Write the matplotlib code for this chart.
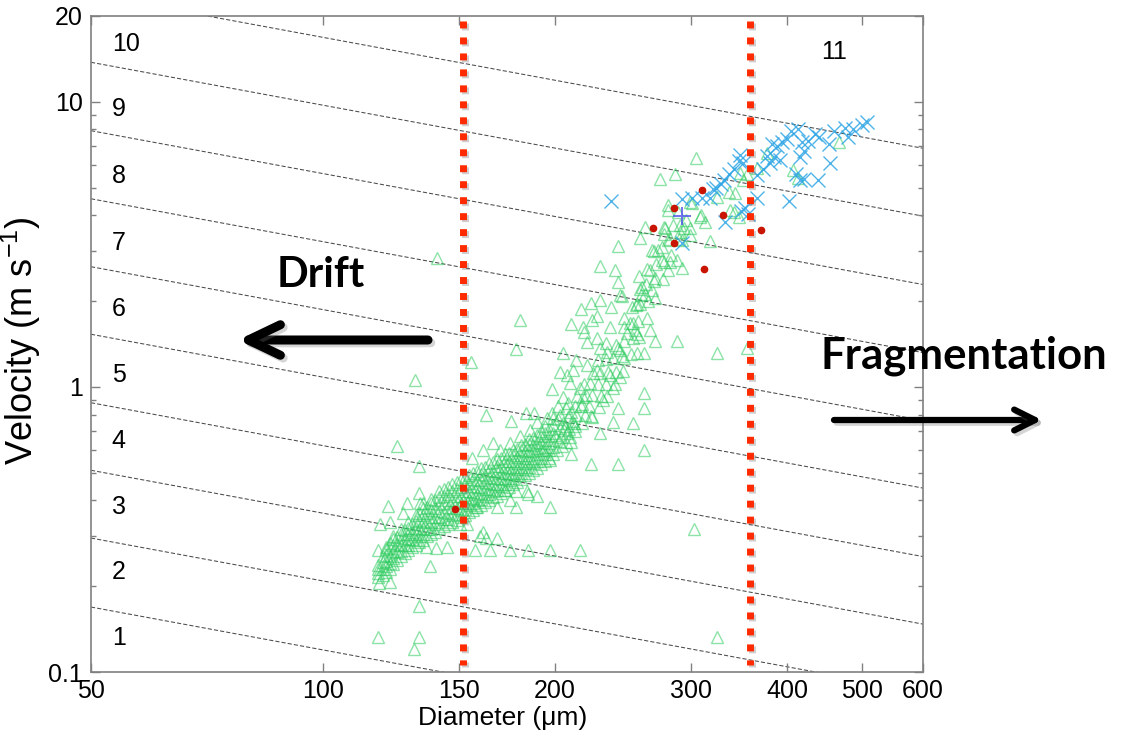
import numpy as np
import matplotlib
matplotlib.use("Agg")
import matplotlib.pyplot as plt
from matplotlib.patches import FancyArrowPatch, ArrowStyle
from matplotlib.ticker import NullLocator, FixedLocator
import matplotlib.patheffects as pe

plt.rcParams['font.family'] = ['Liberation Sans', 'DejaVu Sans']
plt.rcParams['mathtext.fontset'] = 'custom'
plt.rcParams['mathtext.rm'] = 'Liberation Sans'
plt.rcParams['mathtext.default'] = 'regular'

# ---------------- data ----------------
x_ticks = [50, 100, 150, 200, 300, 400, 500, 600]
y_ticks = [0.1, 1, 10, 20]
y_tick_labels = ['0.1', '1', '10', '20']

# iso-lines  v = c * (D/50)^slope   (c = velocity at D = 50 um)
line_v50 = [0.169, 0.295, 0.51, 0.88, 1.53, 2.64, 4.57, 7.92, 13.76, 23.8]
line_slope = -0.5
region_labels = ['1', '2', '3', '4', '5', '6', '7', '8', '9', '10']
region_label_v = [0.1316, 0.224, 0.379, 0.646, 1.10, 1.876, 3.20, 5.49, 9.44, 15.95]
region_label_d = 53.2
top_label = '11'
top_label_pos = (443, 14.96)

drift_limit = 152
frag_limit = 358

# dense band of green triangles: (diameter, [velocities])
band_cols = [
    (117.9, [0.215, 0.222, 0.230, 0.238]),
    (119.5, [0.219, 0.230, 0.243, 0.256]),
    (120.6, [0.225, 0.235, 0.246, 0.258, 0.270]),
    (122.0, [0.230, 0.242, 0.256, 0.272, 0.284]),
    (123.3, [0.240, 0.252, 0.265, 0.278, 0.292, 0.300]),
    (124.8, [0.248, 0.264, 0.281, 0.298]),
    (126.2, [0.255, 0.265, 0.278, 0.290, 0.305, 0.318]),
    (127.8, [0.262, 0.280, 0.296, 0.315]),
    (129.0, [0.268, 0.280, 0.292, 0.305, 0.320, 0.335]),
    (130.5, [0.275, 0.292, 0.310, 0.330]),
    (132.0, [0.280, 0.290, 0.305, 0.320, 0.338, 0.355]),
    (133.3, [0.285, 0.300, 0.318, 0.340, 0.360]),
    (134.8, [0.290, 0.305, 0.320, 0.336, 0.355, 0.375, 0.390]),
    (136.3, [0.300, 0.318, 0.338, 0.360, 0.380]),
    (138.0, [0.305, 0.318, 0.335, 0.350, 0.370, 0.390, 0.405]),
    (139.8, [0.310, 0.330, 0.350, 0.375, 0.400]),
    (141.5, [0.320, 0.335, 0.350, 0.368, 0.388, 0.410, 0.430]),
    (143.5, [0.325, 0.345, 0.365, 0.390, 0.415, 0.440]),
    (145.3, [0.330, 0.345, 0.362, 0.380, 0.400, 0.420, 0.445]),
    (147.0, [0.335, 0.355, 0.375, 0.400, 0.430, 0.455]),
    (149.0, [0.340, 0.358, 0.375, 0.395, 0.415, 0.440, 0.465]),
    (151.0, [0.350, 0.370, 0.390, 0.415, 0.445, 0.475]),
    (152.7, [0.355, 0.372, 0.390, 0.410, 0.430, 0.455, 0.485]),
    (154.6, [0.365, 0.385, 0.405, 0.430, 0.460, 0.490]),
    (156.5, [0.370, 0.390, 0.408, 0.428, 0.450, 0.475, 0.500]),
    (158.4, [0.380, 0.400, 0.420, 0.445, 0.470, 0.505]),
    (160.3, [0.385, 0.405, 0.425, 0.445, 0.470, 0.495, 0.520]),
    (162.3, [0.395, 0.415, 0.440, 0.465, 0.490, 0.525]),
    (164.0, [0.400, 0.420, 0.440, 0.462, 0.485, 0.510, 0.540]),
    (166.0, [0.410, 0.430, 0.455, 0.480, 0.505, 0.545]),
    (168.0, [0.415, 0.435, 0.457, 0.480, 0.505, 0.530, 0.560]),
    (170.0, [0.425, 0.450, 0.475, 0.500, 0.530, 0.565]),
    (172.0, [0.435, 0.455, 0.478, 0.500, 0.525, 0.550, 0.580]),
    (174.3, [0.445, 0.470, 0.495, 0.520, 0.550, 0.585]),
    (176.5, [0.455, 0.478, 0.500, 0.525, 0.550, 0.575, 0.600]),
    (178.5, [0.465, 0.490, 0.515, 0.540, 0.570, 0.605]),
    (180.6, [0.475, 0.500, 0.525, 0.550, 0.575, 0.600, 0.625]),
    (183.0, [0.490, 0.515, 0.540, 0.565, 0.595, 0.630]),
    (185.0, [0.500, 0.525, 0.550, 0.575, 0.600, 0.630, 0.655]),
    (187.2, [0.510, 0.540, 0.565, 0.595, 0.625, 0.660]),
    (189.5, [0.520, 0.550, 0.580, 0.610, 0.640, 0.680]),
    (191.8, [0.535, 0.565, 0.600, 0.635, 0.670, 0.700]),
    (194.0, [0.550, 0.580, 0.615, 0.650, 0.690, 0.730]),
    (196.3, [0.565, 0.600, 0.635, 0.670, 0.710]),
    (198.6, [0.580, 0.615, 0.650, 0.690, 0.735, 0.780]),
]

tri_upper = [
    (201, 0.60), (202.5, 0.645), (200, 0.68), (203, 0.72), (201.5, 0.77),
    (204, 0.62), (203.5, 0.665), (205.5, 0.705), (204.5, 0.745), (203, 0.80),
    (206.5, 0.64), (207, 0.69), (205.8, 0.73), (208, 0.785), (206.8, 0.84),
    (209, 0.665), (208.5, 0.71), (210.2, 0.76), (209.5, 0.815), (208, 0.875),
    (212.5, 0.70), (211.5, 0.75), (213, 0.80), (212, 0.86), (213.5, 0.93),
    (217, 0.745), (218.5, 0.80), (216.5, 0.87), (219, 0.94), (217.8, 1.02),
    (222.5, 0.79), (221.5, 0.86), (223.5, 0.94), (222, 1.03), (224, 1.12),
    (228, 0.85), (229.5, 0.93), (227, 1.02), (228.8, 1.12), (227.5, 1.24),
    (233.5, 0.93), (232.5, 1.02), (234.5, 1.13), (233, 1.25),
    (239, 1.02), (240, 1.13), (238, 1.26), (239.5, 1.40),
    (245, 1.14), (244, 1.28), (246, 1.45), (245.5, 1.62),
    (251, 1.30), (252, 1.48), (250, 1.68), (251.5, 1.90),
    (257, 1.50), (256, 1.70), (258, 1.95), (257.5, 2.20),
    (263, 1.75), (264, 2.00), (262, 2.30), (263.5, 2.60),
    (269.5, 2.05), (268.5, 2.35), (270.5, 2.70), (269, 3.00),
    (276, 2.40), (277, 2.75), (275, 3.10), (276.5, 3.45),
    (283, 2.90), (282, 3.30), (284, 3.70),
    (289.5, 3.30), (290.5, 3.70), (288.5, 4.10),
]

tri_scatter = [
    (124.7, 0.62), (133, 0.53), (121.5, 0.382), (118.6, 0.33), (122, 0.335), (117.9, 0.268), (120.6, 0.275),
    (133, 0.425), (133.4, 0.39), (128.5, 0.39), (127, 0.36), (137.6, 0.235), (118.2, 0.205), (122, 0.207),
    (133, 0.17), (117.9, 0.133), (133, 0.133), (131.2, 0.12),
    (160, 0.30), (162.7, 0.296), (168, 0.296), (157.5, 0.268), (164.6, 0.268), (174.8, 0.268), (184.5, 0.268),
    (197, 0.268), (215.4, 0.268),
    (197, 0.38), (177.7, 0.43), (184, 0.43), (189.5, 0.415), (168, 0.38), (145, 0.275), (140, 0.272), (136, 0.275),
    (150.5, 0.33), (153.5, 0.33), (161, 0.31), (158, 0.378), (172, 0.435), (175, 0.40), (177.7, 0.38), (184.5, 0.42),
    (303, 0.318), (324, 0.1325),
    (131.5, 1.06), (140.6, 2.83), (155.5, 1.22), (178, 1.36), (180, 1.72),
    (162.5, 0.80), (175.5, 0.76), (183.5, 0.81), (188, 0.81), (198, 0.98), (203, 1.13), (204.7, 1.32), (210, 1.66),
    (216, 1.87), (222.5, 1.97), (229, 2.02), (236, 1.90), (242.7, 2.10), (254.8, 1.94), (258.5, 2.10),
    (218, 1.56), (223, 1.72), (235.5, 1.62), (246, 1.75), (252, 1.68), (248, 1.55), (255, 1.53),
    (220, 1.44), (226.5, 1.48), (229, 1.37), (233.5, 1.33), (241, 1.37), (246, 1.26), (255, 1.32), (261, 1.32),
    (213, 1.24), (220, 1.19), (226.5, 1.15), (235.5, 1.10), (242.7, 1.08), (237.5, 0.99), (261, 0.95),
    (231, 0.90), (241, 0.845), (261, 0.845), (223, 0.785), (237.5, 0.755), (252, 0.75), (229, 0.69),
    (216, 0.86), (212.5, 0.73), (209.5, 0.64), (209.5, 0.58), (197, 0.554), (193, 0.60), (222.5, 0.535),
    (241, 0.535), (261, 0.60),
    (207, 1.10), (211, 1.15), (209, 1.03), (215.5, 0.99), (217.5, 0.92), (205, 0.92), (202, 0.86), (198, 0.81),
    (195, 0.78), (189.5, 0.755), (185.5, 0.706), (180, 0.67), (175, 0.635), (169.6, 0.60), (166, 0.635),
    (161, 0.60), (156, 0.565),
    (273.5, 5.35), (286, 5.6), (241, 3.12), (229, 2.66), (239, 2.57), (241, 2.33), (257, 2.44), (257.6, 3.33),
    (261.5, 3.64), (267, 3.02), (272, 3.02), (278, 3.62), (280, 4.34), (275, 2.79), (282, 2.74), (288, 2.79),
    (292, 2.61), (280, 2.57), (265.4, 2.57), (269.5, 2.41), (259, 2.25), (261.5, 2.12), (267, 2.19), (255, 1.96),
    (244, 2.09), (226.5, 1.77), (253.5, 1.58), (265.4, 1.58), (269.5, 1.45), (288, 1.45), (324, 1.32),
    (355, 1.37), (217.5, 1.62), (233, 1.42), (242.7, 1.35),
    (296, 3.85), (290, 3.5), (299, 3.62), (292.5, 3.28), (308, 3.95), (312.5, 3.8), (317.5, 3.24), (280, 4.17),
    (299, 4.45), (336, 4.84), (342, 4.8), (341, 4.1), (346, 3.95), (350, 5.3), (355, 5.6),
    (305, 6.35), (301, 4.4), (324, 4.62), (347.4, 5.65), (376, 6.6), (366, 5.85), (407, 5.75), (413, 5.4),
    (467, 7.25), (337, 4.17), (309, 4.0), (277, 3.65), (294, 3.62), (299, 3.4), (280, 3.28),
]

cross_pts = [
    (236, 4.5), (292, 4.55), (301, 4.6), (310, 4.6), (318, 4.6), (323, 5.0), (331, 5.3), (336, 5.6),
    (341, 5.8), (346, 6.2), (350, 6.1), (347, 6.5), (292, 3.2), (332, 3.8), (348, 4.15), (353, 4.25),
    (356, 4.05), (366, 4.6), (372, 5.8), (380, 6.1), (385, 6.4), (388, 7.0), (382, 7.1), (394, 7.2),
    (400, 7.4), (405, 7.9), (413, 8.0), (418, 7.2), (421, 6.7), (416, 6.4), (402, 4.5), (410, 5.6),
    (416, 5.3), (421, 5.35), (438, 5.3), (455, 6.1), (434, 7.7), (440, 7.5), (453, 7.1), (460, 7.9),
    (475, 8.1), (487, 8.0), (480, 7.5), (500, 8.3), (508, 8.5), (320, 4.95), (328, 5.15), (376, 6.45),
    (392, 6.25), (366, 5.55), (426, 7.3),
]

dot_pts = [(148.5, 0.372), (268, 3.6), (285, 4.25), (285, 3.2), (310, 4.9), (312, 2.6), (330, 4.0), (370, 3.55)]
plus_pts = [(292, 3.98)]

# ---------------- figure ----------------
W, H = 1123, 743
fig = plt.figure(figsize=(W / 100, H / 100), dpi=100)
ax = fig.add_axes([91 / W, 71 / H, 832 / W, 656 / H])
ax.set_xscale('log')
ax.set_yscale('log')
ax.set_xlim(50, 600)
ax.set_ylim(0.1, 20)

# iso-lines
d_line = np.geomspace(50, 600, 200)
for c in line_v50:
    ax.plot(d_line, c * (d_line / 50.0) ** line_slope, color='#4a4a4a', lw=0.75,
            dashes=(4, 2), zorder=1)

for lab, v in zip(region_labels, region_label_v):
    ax.text(region_label_d, v, lab, ha='left', va='center', fontsize=18, zorder=2)
ax.text(top_label_pos[0], top_label_pos[1], top_label, ha='left', va='center', fontsize=18, zorder=2)

# triangles
tri_d = [d for d, vs in band_cols for _ in vs] + [p[0] for p in tri_upper] + [p[0] for p in tri_scatter]
tri_v = [v for d, vs in band_cols for v in vs] + [p[1] for p in tri_upper] + [p[1] for p in tri_scatter]
ax.plot(tri_d, tri_v, linestyle='none', marker='^', markersize=8.3, markerfacecolor='none',
        markeredgecolor='#2fcc60', markeredgewidth=1.0, alpha=0.55, zorder=3)

ax.plot([p[0] for p in cross_pts], [p[1] for p in cross_pts], linestyle='none', marker='x',
        markersize=10, markeredgecolor='#30a6e6', markeredgewidth=1.0, alpha=0.85, zorder=4)
ax.plot([p[0] for p in dot_pts], [p[1] for p in dot_pts], linestyle='none', marker='o',
        markersize=4.5, markerfacecolor='#c81400', markeredgecolor='#c81400', zorder=5)
ax.plot([p[0] for p in plus_pts], [p[1] for p in plus_pts], linestyle='none', marker='+',
        markersize=13, markeredgecolor='#5050ee', markeredgewidth=1.4, alpha=0.8, zorder=5)

# red dotted limits
for xd in (drift_limit, frag_limit):
    ax.plot([xd, xd], [19.2, 0.106], color='#ff2a00', lw=5, dashes=(1.0, 1.3),
            dash_capstyle='butt', zorder=6,
            path_effects=[pe.SimpleLineShadow(offset=(1.2, -1.5), shadow_color='#777777', alpha=0.35),
                          pe.Normal()])

# ticks
ax.xaxis.set_major_locator(FixedLocator(x_ticks))
ax.set_xticklabels([str(t) for t in x_ticks])
ax.xaxis.set_minor_locator(NullLocator())
ax.yaxis.set_major_locator(FixedLocator(y_ticks))
ax.set_yticklabels(y_tick_labels)
ax.yaxis.set_minor_locator(FixedLocator([0.2, 0.3, 0.4, 0.5, 0.6, 0.7, 0.8, 0.9,
                                         2, 3, 4, 5, 6, 7, 8, 9]))
ax.tick_params(which='both', direction='in', top=True, right=True, color='#808080',
               labelcolor='black', labelsize=18, width=1.0)
ax.tick_params(which='major', length=6.5)
ax.tick_params(which='minor', length=3.5)
ax.tick_params(axis='x', pad=5)
ax.tick_params(axis='y', pad=6)
for s in ax.spines.values():
    s.set_color('#808080')
    s.set_linewidth(1.2)

ax.set_xlabel('Diameter (μm)', fontsize=19)
ax.set_ylabel('Velocity (m s$^{-1}$)', fontsize=26)
ax.xaxis.set_label_coords((503 - 91) / 832, -0.052)
ax.yaxis.set_label_coords(-0.058, 0.505)

# annotations (figure pixels)
def fx(px):
    return px / W

def fy(py):
    return (H - py) / H

fig.text(fx(277), fy(287), 'Drift', fontsize=30, fontweight='bold', family=['Lato', 'DejaVu Sans'],
         ha='left', va='baseline')
fig.text(fx(821), fy(369), 'Fragmentation', fontsize=31.5, fontweight='bold', family=['Lato', 'DejaVu Sans'],
         ha='left', va='baseline')

shadow = [pe.SimpleLineShadow(offset=(2, -2), shadow_color='#777777', alpha=0.3), pe.Normal()]
a1 = FancyArrowPatch((fx(428), fy(340)), (fx(238), fy(340)), transform=fig.transFigure,
                     arrowstyle=ArrowStyle('->', head_length=23, head_width=11),
                     lw=6.5, color='black', capstyle='round', joinstyle='round',
                     shrinkA=0, shrinkB=0, path_effects=shadow)
a2 = FancyArrowPatch((fx(834), fy(420)), (fx(1042), fy(420)), transform=fig.transFigure,
                     arrowstyle=ArrowStyle('->', head_length=15, head_width=7.5),
                     lw=4.5, color='black', capstyle='round', joinstyle='round',
                     shrinkA=0, shrinkB=0, path_effects=shadow)
fig.add_artist(a1)
fig.add_artist(a2)

fig.savefig('out.png', dpi=100)
